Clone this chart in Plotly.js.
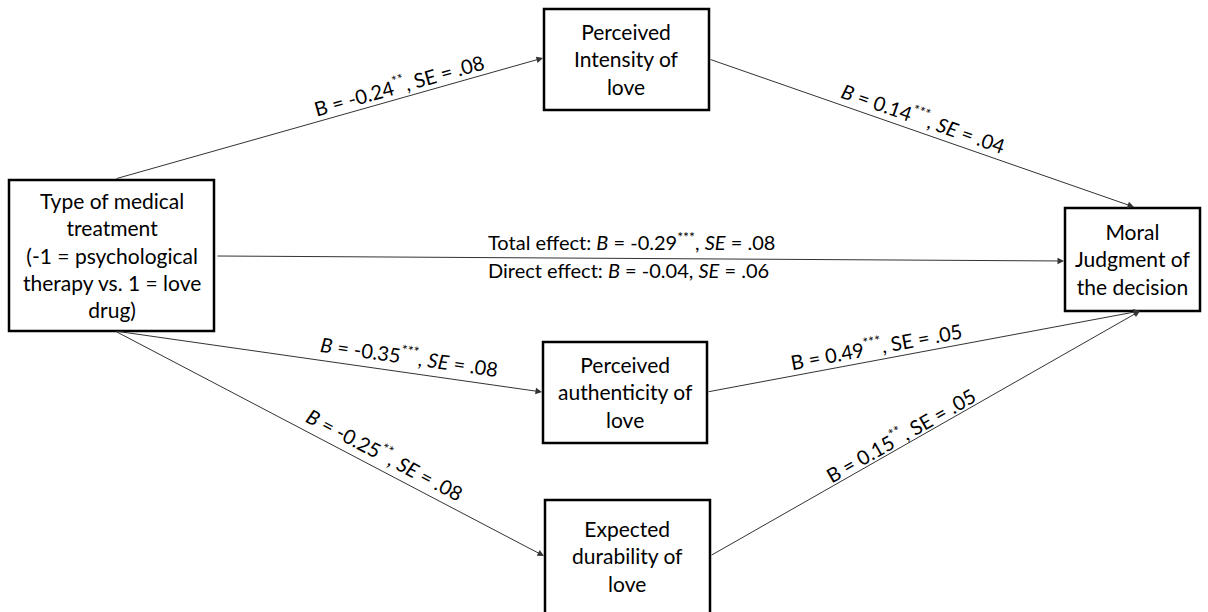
<!DOCTYPE html>
<html>
<head>
<meta charset="utf-8">
<script src="https://cdn.plot.ly/plotly-3.0.1.min.js"></script>
<style>html,body{margin:0;padding:0;background:#fff;}#chart{width:1208px;height:612px;}</style>
</head>
<body>
<div id="chart"></div>
<script>
// ---- data ----
const nodeIds = ["treatment", "intensity", "authenticity", "durability", "judgment"];
const nodeLabels = [
  "Type of medical<br>treatment<br>(-1 = psychological<br>therapy vs. 1 = love<br>drug)",
  "Perceived<br>Intensity of<br>love",
  "Perceived<br>authenticity of<br>love",
  "Expected<br>durability of<br>love",
  "Moral<br>Judgment of<br>the decision"
];
const edgeFrom = ["treatment", "intensity", "treatment", "authenticity", "treatment", "durability"];
const edgeTo   = ["intensity", "judgment", "authenticity", "judgment", "durability", "judgment"];
const edgeB     = ["-0.24", "0.14", "-0.35", "0.49", "-0.25", "0.15"];
const edgeStars = ["**", "***", "***", "***", "**", "**"];
const edgeSE    = [".08", ".04", ".08", ".05", ".08", ".05"];
const edgeItalic = [false, true, true, false, true, false];
const totalB = "-0.29", totalStars = "***", totalSE = ".08";
const directB = "-0.04", directSE = ".06";

// ---- layout geometry (pixel units, y down) ----
const boxes = {
  treatment:    {x0: 9,    x1: 214,  y0: 180, y1: 331},
  intensity:    {x0: 544,  x1: 709,  y0: 9,   y1: 110},
  authenticity: {x0: 543,  x1: 707,  y0: 342, y1: 443},
  durability:   {x0: 545,  x1: 710,  y0: 500, y1: 650},
  judgment:     {x0: 1065, x1: 1200, y0: 208, y1: 311}
};
const textCenters = {
  treatment: [112, 255], intensity: [626, 59], authenticity: [625, 392],
  durability: [627, 556], judgment: [1132, 259]
};
// edge endpoints: [tailX, tailY, headX, headY]
const edgeGeom = [
  [115, 179, 543, 58],
  [709, 59, 1134, 207],
  [115, 331, 542, 392],
  [707, 392, 1140, 311],
  [115, 331, 544, 556],
  [710, 556, 1140, 311]
];
const labelPos = [
  [398, 84], [924, 117], [409, 355], [876, 345], [385, 453], [900, 434]
];

const FONT = "Lato, 'Open Sans', sans-serif";
const BOXSIZE = 21, LABELSIZE = 20;
const shapes = [];
const annotations = [];

nodeIds.forEach((id, i) => {
  const b = boxes[id];
  shapes.push({type: "rect", xref: "x", yref: "y", x0: b.x0, x1: b.x1, y0: b.y0, y1: b.y1,
    line: {color: "#000", width: 2.5}, fillcolor: "#fff", layer: "above"});
  annotations.push({x: textCenters[id][0], y: textCenters[id][1], xref: "x", yref: "y",
    text: nodeLabels[i], showarrow: false, font: {family: FONT, size: BOXSIZE, color: "#000"},
    align: "center"});
});

function arrow(g) {
  annotations.push({x: g[2], y: g[3], ax: g[0], ay: g[1], xref: "x", yref: "y", axref: "x", ayref: "y",
    text: "", showarrow: true, arrowhead: 2, arrowsize: 1.3, arrowwidth: 1, arrowcolor: "#333", standoff: 0, startstandoff: 0});
}

edgeFrom.forEach((f, i) => {
  const g = edgeGeom[i];
  arrow(g);
  const ang = Math.atan2(g[3] - g[1], g[2] - g[0]) * 180 / Math.PI;
  const B = edgeItalic[i] ? "<i>B</i>" : "B";
  const SE = edgeItalic[i] ? "<i>SE</i>" : "SE";
  annotations.push({x: labelPos[i][0], y: labelPos[i][1], xref: "x", yref: "y",
    text: B + " = " + edgeB[i] + "<sup>" + edgeStars[i] + "</sup>, " + SE + " = " + edgeSE[i],
    showarrow: false, textangle: ang, font: {family: FONT, size: LABELSIZE, color: "#000"}});
});

// direct / total path
arrow([216, 256, 1064, 261]);
annotations.push({x: 631, y: 241, xref: "x", yref: "y", showarrow: false,
  text: "Total effect: <i>B</i> = " + totalB + "<sup>" + totalStars + "</sup>, <i>SE</i> = " + totalSE,
  font: {family: FONT, size: LABELSIZE, color: "#000"}});
annotations.push({x: 628, y: 270, xref: "x", yref: "y", showarrow: false,
  text: "Direct effect: <i>B</i> = " + directB + ", <i>SE</i> = " + directSE,
  font: {family: FONT, size: LABELSIZE, color: "#000"}});

const layout = {
  width: 1208, height: 612,
  margin: {l: 0, r: 0, t: 0, b: 0},
  paper_bgcolor: "#fff", plot_bgcolor: "#fff",
  xaxis: {range: [0, 1208], visible: false, fixedrange: true},
  yaxis: {range: [612, 0], visible: false, fixedrange: true},
  shapes: shapes,
  annotations: annotations,
  showlegend: false
};

Plotly.newPlot("chart", [{x: [], y: [], type: "scatter"}], layout, {displayModeBar: false, staticPlot: true});
</script>
</body>
</html>
